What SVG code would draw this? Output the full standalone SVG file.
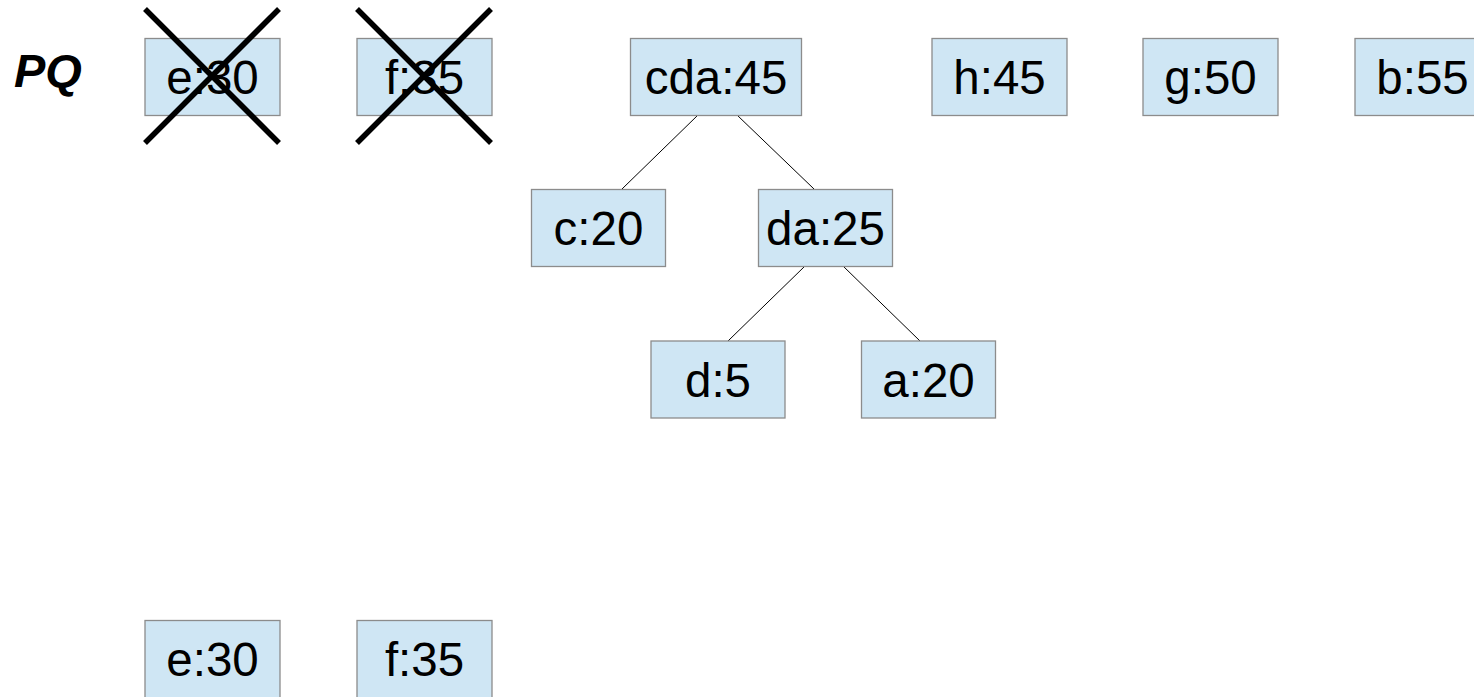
<svg xmlns="http://www.w3.org/2000/svg" width="1474" height="697" viewBox="0 0 1474 697">
<style>
.box{fill:#cfe6f4;stroke:#8c8c8c;stroke-width:1.3}
.lbl{font-family:"Liberation Sans",Arial,sans-serif;font-size:47.5px;fill:#000;text-anchor:middle}
.edge{stroke:#000;stroke-width:1;fill:none}
.cross{stroke:#000;stroke-width:5.5;fill:none}
</style>
<rect width="1474" height="697" fill="#fff"/>
<text x="14" y="86.5" font-family="'Liberation Sans',Arial,sans-serif" font-size="47" font-weight="bold" font-style="italic" fill="#000">PQ</text>
<g id="connectors">
<line class="edge" x1="698" y1="115" x2="622" y2="189"/>
<line class="edge" x1="737" y1="115" x2="814" y2="189"/>
<line class="edge" x1="805" y1="266" x2="728" y2="341"/>
<line class="edge" x1="843" y1="266" x2="920" y2="341"/>
</g>
<g id="e30top"><rect class="box" x="145" y="38.5" width="135" height="77"/><text class="lbl" x="212.5" y="94">e:30</text></g>
<g id="f35top"><rect class="box" x="357" y="38.5" width="135" height="77"/><text class="lbl" x="424.5" y="94">f:35</text></g>
<g id="cda45"><rect class="box" x="630.5" y="38.5" width="171" height="77"/><text class="lbl" x="716" y="94">cda:45</text></g>
<g id="h45"><rect class="box" x="932" y="38.5" width="135" height="77"/><text class="lbl" x="999.5" y="94">h:45</text></g>
<g id="g50"><rect class="box" x="1143" y="38.5" width="135" height="77"/><text class="lbl" x="1210.5" y="94">g:50</text></g>
<g id="b55"><rect class="box" x="1355" y="38.5" width="135" height="77"/><text class="lbl" x="1422.5" y="94">b:55</text></g>
<g id="c20"><rect class="box" x="531.5" y="189.5" width="134" height="77"/><text class="lbl" x="598.5" y="245">c:20</text></g>
<g id="da25"><rect class="box" x="758.5" y="189.5" width="134" height="77"/><text class="lbl" x="825.5" y="245">da:25</text></g>
<g id="d5"><rect class="box" x="651" y="341" width="134" height="77"/><text class="lbl" x="718" y="397">d:5</text></g>
<g id="a20"><rect class="box" x="861.5" y="341" width="134" height="77"/><text class="lbl" x="928.5" y="397">a:20</text></g>
<g id="e30bottom"><rect class="box" x="145" y="620.5" width="135" height="80"/><text class="lbl" x="212.5" y="676">e:30</text></g>
<g id="f35bottom"><rect class="box" x="357" y="620.5" width="135" height="80"/><text class="lbl" x="424.5" y="676">f:35</text></g>
<g id="crosses">
<line class="cross" x1="145" y1="9" x2="279" y2="143"/>
<line class="cross" x1="279" y1="9" x2="145" y2="143"/>
<line class="cross" x1="357" y1="9" x2="491" y2="143"/>
<line class="cross" x1="491" y1="9" x2="357" y2="143"/>
</g>
</svg>
